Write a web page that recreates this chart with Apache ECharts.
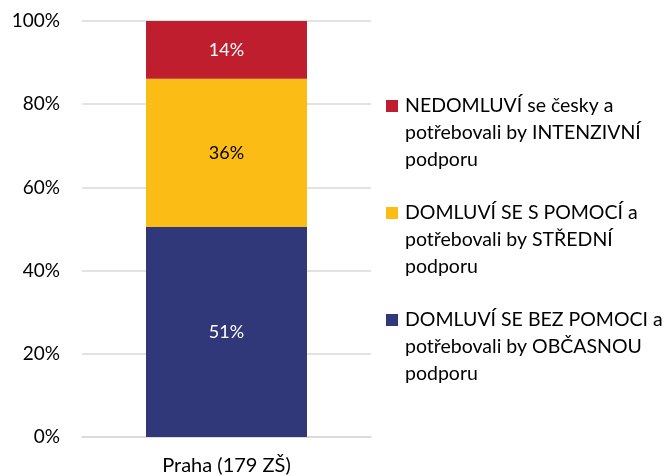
<!DOCTYPE html>
<html>
<head>
<meta charset="utf-8">
<script src="https://cdn.jsdelivr.net/npm/echarts@6/dist/echarts.min.js"></script>
<style>
  html, body { margin: 0; padding: 0; background: #fff; }
  #chart { width: 664px; height: 476px; }
</style>
</head>
<body>
<div id="chart"></div>
<script>
// data
var categories = ['Praha (179 ZŠ)'];
var seriesNames = [
  'DOMLUVÍ SE BEZ POMOCI a\npotřebovali by OBČASNOU\npodporu',
  'DOMLUVÍ SE S POMOCÍ a\npotřebovali by STŘEDNÍ\npodporu',
  'NEDOMLUVÍ se česky a\npotřebovali by INTENZIVNÍ\npodporu'
];
var seriesValues = [[50.5], [35.6], [13.9]];
var colors = ['#31387A', '#FBBC15', '#BE1E2D'];
var labelColors = ['#ffffff', '#000000', '#ffffff'];
var yTicks = [0, 20, 40, 60, 80, 100];

var FONT = 'Lato';
var chart = echarts.init(document.getElementById('chart'));

// legend text with a coloured square on the first line
var rich = {
  t: { fontFamily: FONT, fontSize: 19.5, lineHeight: 27, color: '#000' },
  g: { width: 7 },
  sp: { width: 19 }
};
colors.forEach(function (c, i) {
  rich['sq' + i] = { width: 12, height: 12, backgroundColor: c };
});

var series = seriesNames.map(function (name, i) {
  return {
    name: name,
    type: 'bar',
    stack: 'total',
    barWidth: 161,
    data: seriesValues[i],
    itemStyle: { color: colors[i] },
    label: {
      show: true,
      position: 'inside',
      color: labelColors[i],
      fontFamily: FONT,
      fontSize: 18,
      formatter: function (p) { return Math.round(p.value) + '%'; }
    }
  };
});

var option = {
  animation: false,
  grid: { left: 82, right: 293, top: 21, bottom: 39 },
  legend: {
    orient: 'vertical',
    left: 381,
    top: 96,
    padding: 0,
    itemGap: 33,
    itemWidth: 0,
    itemHeight: 0,
    selectedMode: false,
    data: seriesNames.slice().reverse(),
    formatter: function (name) {
      var i = seriesNames.indexOf(name);
      var lines = name.split('\n');
      return lines.map(function (l, k) {
        return (k === 0 ? '{sq' + i + '|}{g|}' : '{sp|}') + '{t|' + l + '}';
      }).join('\n');
    },
    textStyle: { rich: rich }
  },
  xAxis: {
    type: 'category',
    data: categories,
    axisLine: { lineStyle: { color: '#d9d9d9', width: 1.5 } },
    axisTick: { show: false },
    axisLabel: { color: '#000', fontFamily: FONT, fontSize: 20, margin: 19 }
  },
  yAxis: {
    type: 'value',
    min: yTicks[0],
    max: yTicks[yTicks.length - 1],
    interval: yTicks[1] - yTicks[0],
    axisLine: { show: false },
    axisTick: { show: false },
    splitLine: { lineStyle: { color: '#d9d9d9', width: 1.5 } },
    axisLabel: { color: '#000', fontFamily: FONT, fontSize: 19, margin: 22, formatter: '{value}%' }
  },
  series: series
};

chart.setOption(option);
</script>
</body>
</html>
